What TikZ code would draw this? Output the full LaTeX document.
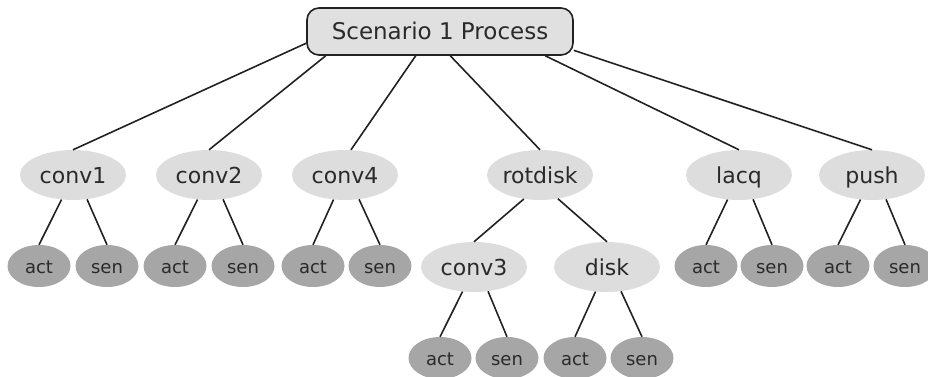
\documentclass[tikz,border=0pt]{standalone}
\usepackage{fontspec}
\setmainfont{DejaVu Sans}
\usetikzlibrary{shapes.geometric}
\definecolor{rootfill}{HTML}{E0E0E0}
\definecolor{midfill}{HTML}{DDDDDD}
\definecolor{leaffill}{HTML}{A6A6A6}
\definecolor{txt}{HTML}{2A2A2A}
\definecolor{edgecol}{HTML}{222222}
\begin{document}
\begin{tikzpicture}[x=1pt,y=-1pt,
  rootbox/.style={draw=edgecol, line width=1.6pt, fill=rootfill, rounded corners=12pt,
    minimum width=266pt, minimum height=47pt, inner sep=0pt, text=txt,
    text height=17pt, text depth=0pt,
    font=\fontsize{23}{23}\selectfont},
  midnode/.style={ellipse, fill=midfill, minimum width=106pt, minimum height=50pt,
    inner sep=0pt, text=txt, text height=17pt, text depth=0pt,
    font=\fontsize{22}{22}\selectfont},
  leafnode/.style={ellipse, fill=leaffill, minimum width=63pt, minimum height=42pt,
    inner sep=0pt, text=txt, text height=15pt, text depth=0pt,
    font=\fontsize{18}{18}\selectfont},
  conn/.style={line width=1.6pt, draw=edgecol}
]
\useasboundingbox (0,0) rectangle (928,377);
\clip (0,0) rectangle (928,377);

\node[rootbox] (root) at (440,31.5) {Scenario 1 Process};

\node[midnode] (c1) at (73,175) {conv1};
\node[midnode] (c2) at (209,175) {conv2};
\node[midnode] (c4) at (345,175) {conv4};
\node[midnode] (rd) at (540,175) {rotdisk};
\node[midnode] (lq) at (739,175) {lacq};
\node[midnode] (ps) at (872,175) {push};

\node[leafnode] (c1a) at (39,266) {act};
\node[leafnode] (c1s) at (107,266) {sen};
\node[leafnode] (c2a) at (175,266) {act};
\node[leafnode] (c2s) at (243,266) {sen};
\node[leafnode] (c4a) at (313,266) {act};
\node[leafnode] (c4s) at (380,266) {sen};
\node[leafnode] (lqa) at (706,266) {act};
\node[leafnode] (lqs) at (772,266) {sen};
\node[leafnode] (psa) at (838,266) {act};
\node[leafnode] (pss) at (905,266) {sen};

\node[midnode] (c3) at (474,267) {conv3};
\node[midnode] (dk) at (607,267) {disk};

\node[leafnode] (c3a) at (440,358) {act};
\node[leafnode] (c3s) at (507,358) {sen};
\node[leafnode] (dka) at (575,358) {act};
\node[leafnode] (dks) at (642,358) {sen};

\draw[conn] (root.185.8) -- (c1.north);
\draw[conn] (root.192) -- (c2.north);
\draw[conn] (root.225.6) -- ([xshift=6pt]c4.north);
\draw[conn] (root.293) -- (rd.north);
\draw[conn] (root.347.4) -- (lq.north);
\draw[conn] (root.352.9) -- (ps.north);

\foreach \p/\a/\s in {c1/c1a/c1s, c2/c2a/c2s, c4/c4a/c4s, lq/lqa/lqs, ps/psa/pss, c3/c3a/c3s, dk/dka/dks} {
  \draw[conn] (\p.245) -- (\a.north);
  \draw[conn] (\p.300) -- (\s.north);
}
\draw[conn] (rd.236) -- (c3.north);
\draw[conn] (rd.307) -- (dk.north);
\end{tikzpicture}
\end{document}
